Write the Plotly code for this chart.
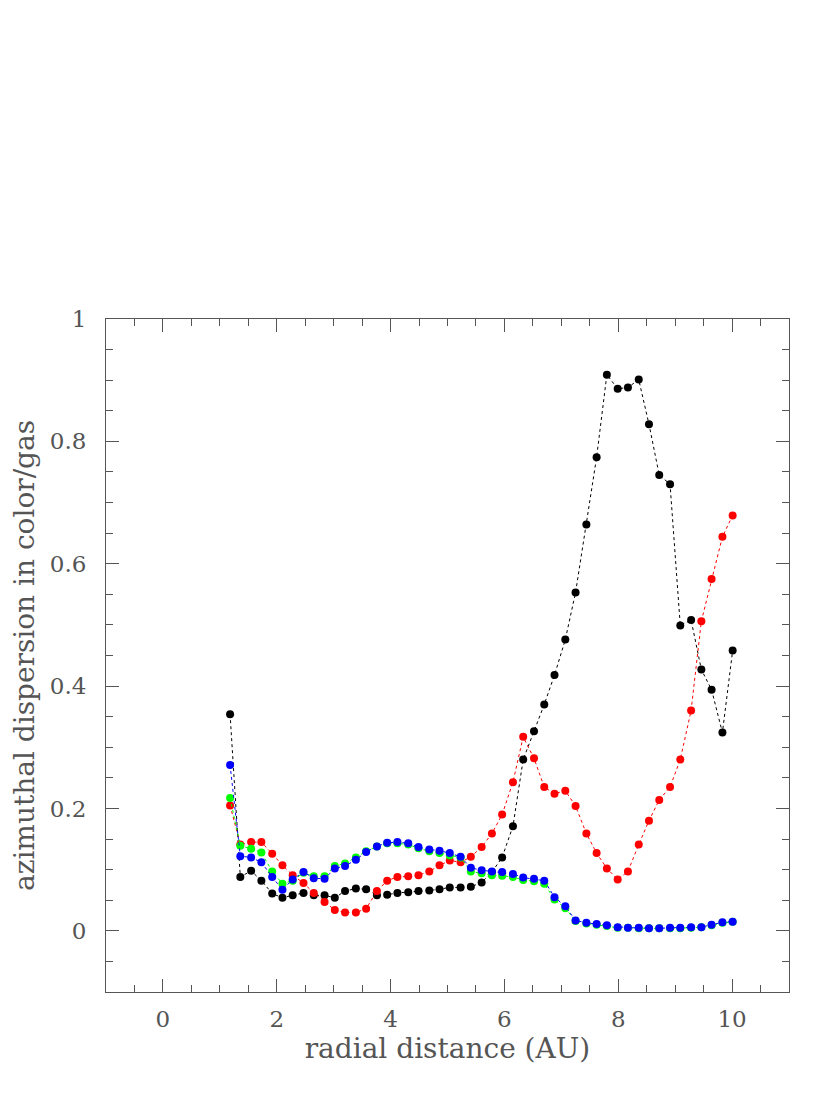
import plotly.graph_objects as go

# radial positions (AU)
radius = [1.18, 1.36, 1.55, 1.73, 1.92, 2.10, 2.28, 2.47, 2.65, 2.84,
          3.02, 3.20, 3.39, 3.57, 3.76, 3.94, 4.12, 4.31, 4.49, 4.68,
          4.86, 5.04, 5.23, 5.41, 5.60, 5.78, 5.96, 6.15, 6.33, 6.52,
          6.70, 6.88, 7.07, 7.25, 7.44, 7.62, 7.80, 7.99, 8.17, 8.36,
          8.54, 8.72, 8.91, 9.09, 9.28, 9.46, 9.64, 9.83, 10.01]

black = [0.354, 0.088, 0.098, 0.082, 0.061, 0.054, 0.058, 0.062, 0.058, 0.058,
         0.054, 0.065, 0.069, 0.068, 0.058, 0.059, 0.062, 0.063, 0.065, 0.066,
         0.068, 0.071, 0.071, 0.072, 0.079, 0.096, 0.120, 0.171, 0.280, 0.326,
         0.370, 0.418, 0.476, 0.553, 0.664, 0.774, 0.909, 0.886, 0.888, 0.901,
         0.828, 0.745, 0.730, 0.499, 0.508, 0.427, 0.394, 0.324, 0.458]

red = [0.205, 0.141, 0.145, 0.145, 0.126, 0.107, 0.091, 0.078, 0.062, 0.047,
       0.034, 0.030, 0.030, 0.036, 0.065, 0.082, 0.088, 0.089, 0.091, 0.097,
       0.107, 0.115, 0.112, 0.121, 0.137, 0.159, 0.190, 0.243, 0.317, 0.282,
       0.235, 0.224, 0.229, 0.204, 0.159, 0.127, 0.102, 0.084, 0.097, 0.141,
       0.180, 0.214, 0.235, 0.280, 0.360, 0.506, 0.575, 0.644, 0.679]

green = [0.217, 0.139, 0.134, 0.128, 0.097, 0.077, 0.082, 0.095, 0.089, 0.089,
         0.106, 0.110, 0.120, 0.130, 0.138, 0.143, 0.143, 0.141, 0.135, 0.130,
         0.127, 0.123, 0.120, 0.097, 0.094, 0.091, 0.090, 0.088, 0.083, 0.081,
         0.077, 0.051, 0.037, 0.016, 0.012, 0.010, 0.008, 0.005, 0.005, 0.004,
         0.004, 0.004, 0.004, 0.004, 0.005, 0.006, 0.009, 0.013, 0.015]

blue = [0.271, 0.122, 0.120, 0.112, 0.088, 0.067, 0.084, 0.096, 0.086, 0.085,
        0.102, 0.106, 0.116, 0.129, 0.138, 0.144, 0.145, 0.143, 0.137, 0.133,
        0.131, 0.127, 0.121, 0.103, 0.099, 0.097, 0.096, 0.093, 0.087, 0.085,
        0.082, 0.055, 0.040, 0.017, 0.013, 0.011, 0.009, 0.006, 0.005, 0.005,
        0.004, 0.004, 0.005, 0.005, 0.006, 0.006, 0.010, 0.014, 0.015]

series = [("black", black, "#000000"), ("red", red, "#ff0000"),
          ("green", green, "#00ff00"), ("blue", blue, "#0000ff")]

fig = go.Figure()
for name, vals, col in series:
    fig.add_trace(go.Scatter(
        x=radius, y=vals, name=name, mode="lines+markers",
        line=dict(color=col, width=1, dash="dot"),
        marker=dict(color=col, size=8)))

tick_font = dict(family="DejaVu Serif, serif", size=23, color="#555555")
title_font = dict(family="DejaVu Serif, serif", size=28, color="#555555")
common = dict(showline=True, linecolor="#555555", linewidth=1, mirror="allticks",
              ticks="inside", ticklen=13, tickcolor="#555555", tickwidth=1,
              showgrid=False, zeroline=False, tickfont=tick_font)

fig.update_xaxes(range=[-1, 11], dtick=2, tick0=0,
                 minor=dict(ticks="inside", ticklen=7, dtick=0.5, tick0=0,
                            tickcolor="#555555", showgrid=False),
                 title=dict(text="radial distance (AU)", font=title_font, standoff=4),
                 ticklabelstandoff=6,
                 **common)
fig.update_yaxes(range=[-0.1, 1], dtick=0.2, tick0=0,
                 minor=dict(ticks="inside", ticklen=7, dtick=0.05, tick0=0,
                            tickcolor="#555555", showgrid=False),
                 title=dict(text="azimuthal dispersion in color/gas", font=title_font, standoff=10),
                 ticklabelstandoff=14,
                 **common)

# page has an 8px body margin, so the figure is a bit smaller than the window
fig.update_layout(width=822, height=1103, showlegend=False,
                  plot_bgcolor="white", paper_bgcolor="white",
                  margin=dict(l=93, r=41, t=311, b=119))

fig.write_html("out.html")
